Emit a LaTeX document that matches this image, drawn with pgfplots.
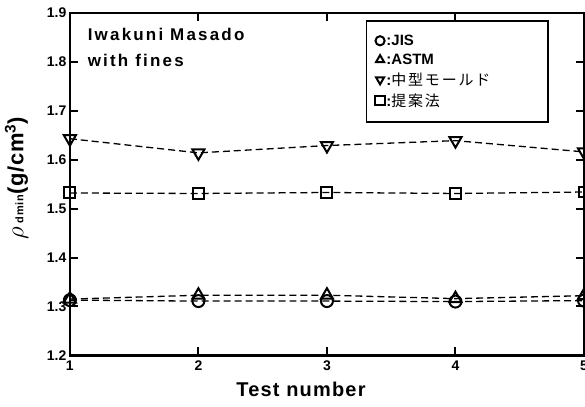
\documentclass[border=0pt]{standalone}
\usepackage{fontspec}
\setmainfont{Liberation Sans}
\newfontfamily\cjk{Noto Sans CJK JP}[LetterSpace=12]
\usepackage{pgfplots}
\pgfplotsset{compat=1.18}
\begin{document}
\begin{tikzpicture}
\begin{axis}[name=ax,
  scale only axis, width=515pt, height=343pt,
  xmin=1, xmax=5, ymin=1.2, ymax=1.9,
  xtick={1,2,3,4,5}, ytick={1.2,1.3,...,1.9},
  yticklabel style={/pgf/number format/.cd,fixed,fixed zerofill,precision=1},
  /pgf/number format/assume math mode=true,
  tick label style={font=\fontsize{14}{16}\selectfont\bfseries},
  tick align=inside, major tick length=8pt,
  axis line style={line width=2.5pt},
  every tick/.append style={line width=2pt,black},
  clip=false,
  xlabel={\fontsize{20}{22}\selectfont\bfseries\addfontfeatures{LetterSpace=6}Test number},
  xlabel style={yshift=-4pt, xshift=-26pt},
  ylabel={\fontsize{22}{24}\selectfont{\fontsize{26}{28}\selectfont$\rho$}\,{\fontsize{11}{12}\selectfont\bfseries\addfontfeatures{LetterSpace=8}dmin}{\bfseries\addfontfeatures{LetterSpace=3}(g/cm\textsuperscript{3})}},
  ylabel style={yshift=12pt, xshift=6pt},
  xticklabel style={yshift=-2pt},
  legend style={at={(rel axis cs:0.575,0.98)}, anchor=north west, draw=black, line width=2pt,
    font=\fontsize{15}{18}\selectfont\bfseries, row sep=3pt, inner xsep=4pt, inner ysep=12pt,
    nodes={inner xsep=1pt}},
  legend cell align=left,
  legend image code/.code={\draw[#1,solid,mark size=4.6pt] plot coordinates {(9.6pt,0pt)};\path[draw=none,fill=none] (0pt,0pt) rectangle (15pt,0.1pt);},
  legend columns=1,
]
\addplot[black, dash pattern=on 7pt off 4pt, line width=1.3pt, mark=o, mark size=6pt,
  mark options={solid, line width=2pt, fill=white}] coordinates {(1,1.313)(2,1.311)(3,1.311)(4,1.310)(5,1.312)};
\addlegendentry{:JIS}
\addplot[black, dash pattern=on 7pt off 4pt, line width=1.3pt, mark=triangle, mark size=7pt,
  mark options={solid, line width=2pt, fill=white}] coordinates {(1,1.315)(2,1.323)(3,1.323)(4,1.316)(5,1.322)};
\addlegendentry{:ASTM}
\addplot[black, dash pattern=on 7pt off 4pt, line width=1.3pt, mark=triangle, mark size=7pt,
  mark options={solid, line width=2pt, fill=white, rotate=180}] coordinates {(1,1.643)(2,1.614)(3,1.629)(4,1.639)(5,1.616)};
\addlegendentry{:{\cjk\mdseries 中型モールド}\rule{53pt}{0pt}}
\addplot[black, dash pattern=on 7pt off 4pt, line width=1.3pt, mark=square, mark size=5.5pt,
  mark options={solid, line width=2pt, fill=white}] coordinates {(1,1.532)(2,1.531)(3,1.533)(4,1.531)(5,1.534)};
\addlegendentry{:{\cjk\mdseries 提案法}}
\node[anchor=north west, align=left, font=\fontsize{17}{26}\selectfont\bfseries\addfontfeatures{LetterSpace=13}]
  at (rel axis cs:0.028,0.965) {Iwakuni Masado\\with fines};
\draw[line width=2.5pt] (rel axis cs:0,0) rectangle (rel axis cs:1,1);
\end{axis}
\pgfresetboundingbox
\path ([xshift=-70pt,yshift=-51pt]ax.south west) rectangle ([xshift=1pt,yshift=13pt]ax.north east);
\end{tikzpicture}
\end{document}
